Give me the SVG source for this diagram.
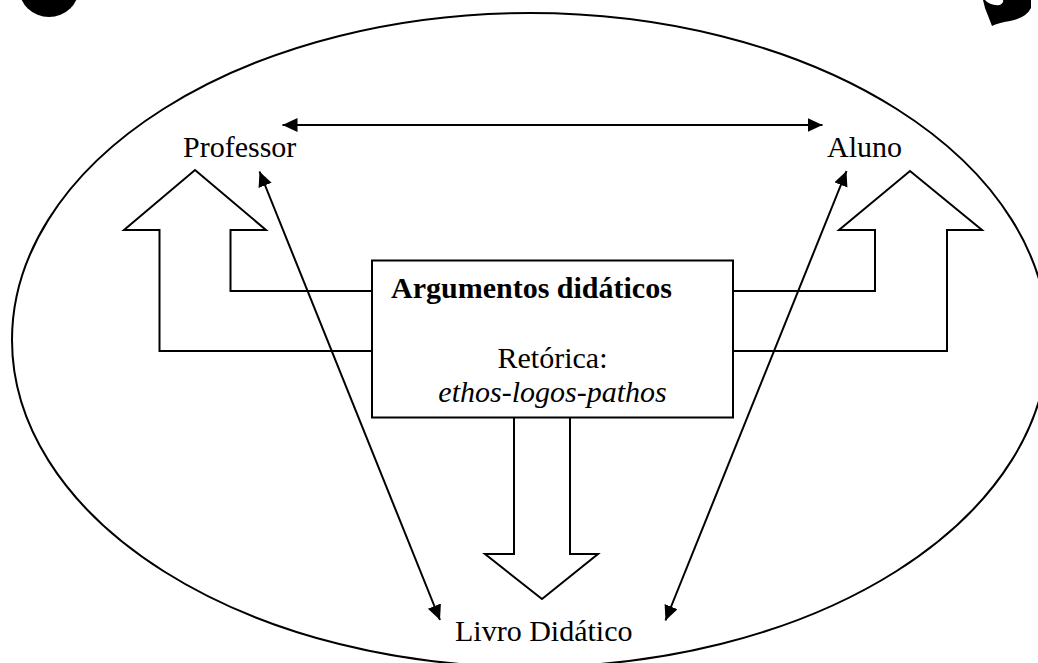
<svg xmlns="http://www.w3.org/2000/svg" width="1038" height="663" viewBox="0 0 1038 663">
  <style>
    .shape { fill: #ffffff; stroke: #000000; stroke-width: 2; stroke-linejoin: miter; }
    .line { fill: none; stroke: #000000; stroke-width: 2; }
    .t { font-family: "Liberation Serif", "Times New Roman", serif; font-size: 30px; fill: #000000; }
    .b { font-weight: bold; }
    .i { font-style: italic; }
    .blob { fill: #000000; stroke: none; }
  </style>
  <defs>
    <marker id="ah" markerUnits="userSpaceOnUse" markerWidth="18" markerHeight="16" refX="15" refY="7" orient="auto-start-reverse">
      <path d="M0,0 L15,7 L0,14 Z" fill="#000000"/>
    </marker>
  </defs>
  <rect width="1038" height="663" fill="#ffffff"/>

  <g id="corner-marks">
    <ellipse class="blob" cx="49" cy="-12" rx="30" ry="29"/>
    <path class="blob" d="M983,0 L985,0 Q990,6 1000,5 Q1004,3 1003,0 L1031,0 L1031,8 Q1026,18 1010,21 Q998,23 992,26 L985,8 Z"/>
  </g>

  <g id="context-ellipse">
    <ellipse class="line" cx="530" cy="340" rx="518" ry="327"/>
  </g>

  <g id="block-arrow-left">
    <polygon class="shape" points="195,170 266,230 230.5,230 230.5,291 372,291 372,351 159.5,351 159.5,230 124,230"/>
  </g>
  <g id="block-arrow-right">
    <polygon class="shape" points="910,171 982,230 947,230 947,351 733,351 733,291 875,291 875,230 839,230"/>
  </g>
  <g id="block-arrow-down">
    <polygon class="shape" points="514,417 570,417 570,554 598,554 542,599 485,554 514,554"/>
  </g>

  <g id="argumentos">
    <rect class="shape" x="372" y="260.5" width="361" height="157"/>
    <text class="t b" x="391" y="298">Argumentos didáticos</text>
    <text class="t" x="552.5" y="368" text-anchor="middle">Retórica:</text>
    <text class="t i" x="552.5" y="402" text-anchor="middle">ethos-logos-pathos</text>
  </g>

  <g id="professor">
    <text class="t" x="183" y="157">Professor</text>
  </g>
  <g id="aluno">
    <text class="t" x="827" y="157">Aluno</text>
  </g>
  <g id="livro">
    <text class="t" x="455" y="641">Livro Didático</text>
  </g>

  <g id="connectors">
    <line class="line" x1="282.5" y1="125" x2="822.5" y2="125" marker-start="url(#ah)" marker-end="url(#ah)"/>
    <line class="line" x1="259.5" y1="171.5" x2="440" y2="620" marker-start="url(#ah)" marker-end="url(#ah)"/>
    <line class="line" x1="846.5" y1="171" x2="665.5" y2="620.5" marker-start="url(#ah)" marker-end="url(#ah)"/>
  </g>
</svg>
